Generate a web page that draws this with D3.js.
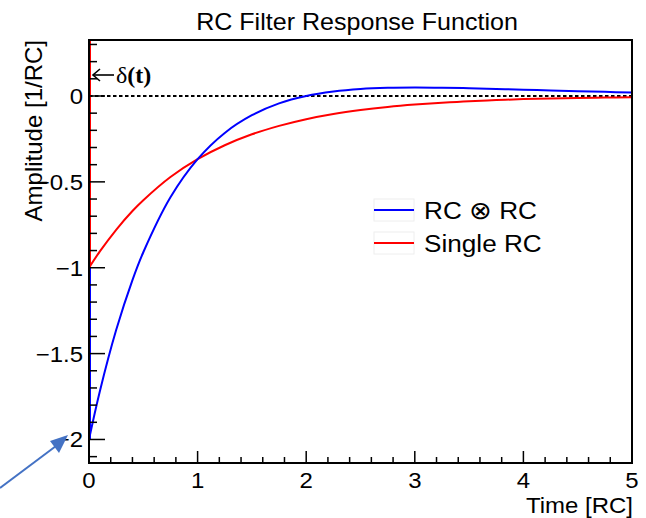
<!DOCTYPE html>
<html><head><meta charset="utf-8">
<script src="https://cdn.jsdelivr.net/npm/d3@7"></script>
<style>html,body{margin:0;padding:0;background:#fff;}</style>
</head><body>
<script>
// ---- data ----
const times   = [0,0.1,0.25,0.4,0.5,0.75,1,1.25,1.5,1.75,2,2.25,2.5,2.75,3,3.25,3.5,3.75,4,4.25,4.5,4.75,5];
const singleRC = [-1,-0.905,-0.779,-0.670,-0.607,-0.472,-0.368,-0.287,-0.223,-0.174,-0.135,-0.105,-0.082,-0.064,-0.050,-0.039,-0.030,-0.024,-0.018,-0.014,-0.011,-0.009,-0.007];
const rcRC     = [-2,-1.719,-1.363,-1.072,-0.910,-0.590,-0.368,-0.215,-0.112,-0.043,0,0.026,0.041,0.048,0.050,0.0485,0.045,0.041,0.037,0.032,0.028,0.024,0.020];
const xMajorTicks = [0,1,2,3,4,5];
const yMajorTicks = [-2,-1.5,-1,-0.5,0];
const yTickLabels = ["\u22122","\u22121.5","\u22121","\u22120.5","0"];
const seriesNames = ["RC","Single RC"];
const seriesColors = ["#0000ff","#ff0000"];

const W=646,H=518;
const SX=1.09; // horizontal stretch of the lettering
const svg=d3.select("body").append("svg").attr("width",W).attr("height",H);
const x=d3.scaleLinear().domain([0,5]).range([89,632]);
const y=d3.scaleLinear().domain([-2.137,0.326]).range([463,40]);
const font="Liberation Sans, Arial, Helvetica, sans-serif";

function txt(px,py,size,anchor){
  return svg.append("text").attr("transform",`translate(${px},${py}) scale(${SX},1)`)
    .attr("text-anchor",anchor).attr("font-family",font).attr("font-size",size);
}

// zero dashed line
svg.append("line").attr("x1",x(0)).attr("x2",x(5)).attr("y1",y(0)).attr("y2",y(0))
  .attr("stroke","#000").attr("stroke-width",2).attr("stroke-dasharray","3.5,2.5");

// curves
const line=d3.line().x((d,i)=>x(times[i])).y(d=>y(d)).curve(d3.curveCatmullRom.alpha(0.5));
svg.append("path").attr("d",line(singleRC)).attr("fill","none").attr("stroke",seriesColors[1]).attr("stroke-width",2);
svg.append("path").attr("d",line(rcRC)).attr("fill","none").attr("stroke",seriesColors[0]).attr("stroke-width",2);

// delta functions at t=0
svg.append("line").attr("x1",x(0)+1).attr("x2",x(0)+1).attr("y1",y(0.326)).attr("y2",y(rcRC[0]))
  .attr("stroke",seriesColors[0]).attr("stroke-width",2);
svg.append("line").attr("x1",x(0)+0.5).attr("x2",x(0)+0.5).attr("y1",y(0.326)).attr("y2",y(singleRC[0]))
  .attr("stroke",seriesColors[1]).attr("stroke-width",3);

// frame
svg.append("rect").attr("x",89).attr("y",40).attr("width",543).attr("height",423)
  .attr("fill","none").attr("stroke","#000").attr("stroke-width",2);

// y ticks
const yMinor=d3.range(-21,4).map(v=>v/10);
svg.append("g").selectAll("line").data(yMinor).join("line")
  .attr("x1",x(0)).attr("x2",d=>x(0)+(yMajorTicks.some(m=>Math.abs(m-d)<1e-9)?16:8))
  .attr("y1",d=>y(d)).attr("y2",d=>y(d)).attr("stroke","#000").attr("stroke-width",1.5);
yMajorTicks.forEach((d,i)=>{
  txt(83,y(d),22,"end").attr("dy","0.36em").text(yTickLabels[i]);
});

// x ticks
const xMinor=d3.range(0,26).map(v=>v/5);
svg.append("g").selectAll("line").data(xMinor).join("line")
  .attr("x1",d=>x(d)).attr("x2",d=>x(d)).attr("y1",463)
  .attr("y2",d=>463-(xMajorTicks.some(m=>Math.abs(m-d)<1e-9)?12:6))
  .attr("stroke","#000").attr("stroke-width",1.5);
xMajorTicks.forEach(d=>{
  txt(x(d),488,22,"middle").text(d);
});

// titles
txt(357,30,23,"middle").text("RC Filter Response Function");
txt(633,513,22,"end").text("Time [RC]");
svg.append("text").attr("transform","translate(42,40) rotate(-90)").attr("text-anchor","end")
  .attr("font-family",font).attr("font-size",24).text("Amplitude [1/RC]");

// delta label
svg.append("line").attr("x1",94).attr("x2",114).attr("y1",75).attr("y2",75).attr("stroke","#000").attr("stroke-width",1.6);
svg.append("path").attr("d","M100,69 L93,75 L100,81").attr("fill","none").attr("stroke","#000").attr("stroke-width",1.6);
const dl=svg.append("text").attr("x",116).attr("y",83).attr("font-family","Liberation Serif, Times New Roman, serif")
  .attr("font-size",24);
dl.append("tspan").text("\u03b4");
dl.append("tspan").attr("font-weight","bold").text("(t)");

// legend
const ly=[210,243];
seriesNames.forEach((n,i)=>{
  svg.append("rect").attr("x",374).attr("y",ly[i]-11).attr("width",40).attr("height",22)
    .attr("fill","none").attr("stroke","#eeeeee").attr("stroke-width",1);
  svg.append("line").attr("x1",374).attr("x2",414).attr("y1",ly[i]).attr("y2",ly[i])
    .attr("stroke",seriesColors[i]).attr("stroke-width",2);
  const t=txt(424,ly[i],24,"start").attr("dy","0.36em");
  if(i===0){
    t.append("tspan").text("RC ");
    t.append("tspan").attr("font-family","DejaVu Sans ExtraLight, DejaVu Sans").attr("font-weight","200").attr("font-size",25).text("\u2297");
    t.append("tspan").text(" RC");
  } else t.text(n);
});

// annotation arrow
const ac="#4472c4";
svg.append("line").attr("x1",0).attr("y1",488).attr("x2",56).attr("y2",446)
  .attr("stroke",ac).attr("stroke-width",2);
svg.append("path").attr("d","M68,435 L50,441 L59,453 Z").attr("fill",ac);
</script>
</body></html>
